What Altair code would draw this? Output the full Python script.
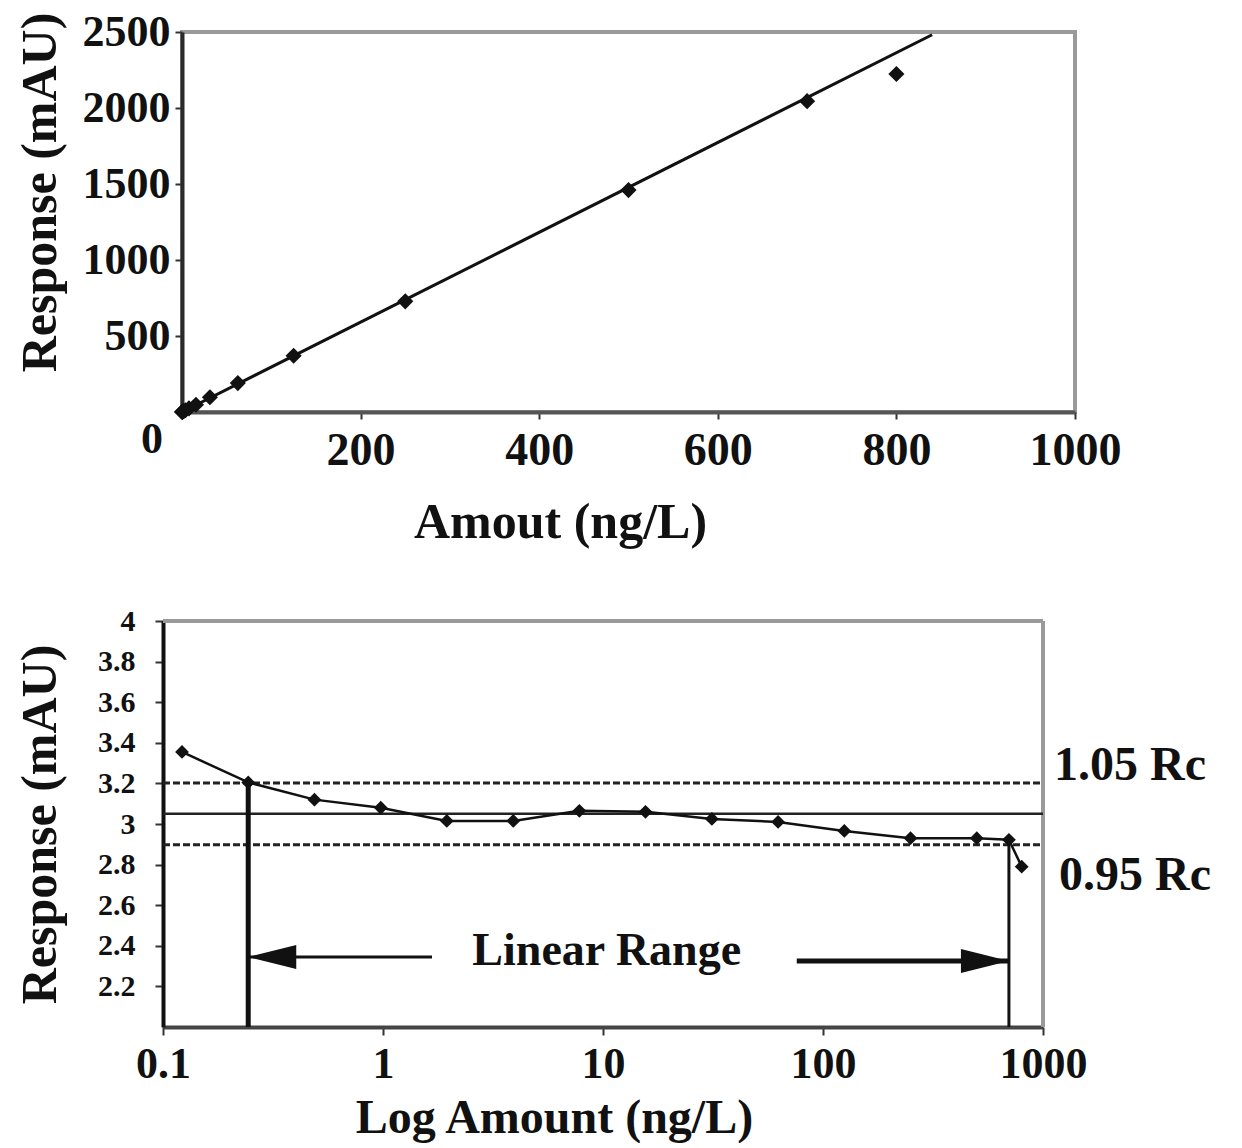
import altair as alt
import pandas as pd

# ---------------- data ----------------
amounts = [0.122, 0.244, 0.488, 0.977, 1.95, 3.91, 7.81, 15.6, 31.25, 62.5, 125, 250, 500, 700, 800]
responses = [0.4, 0.8, 1.5, 3.0, 5.9, 11.8, 24, 48, 97, 190, 370, 728, 1460, 2045, 2224]
fit_amounts = [0, 840]
fit_responses = [0, 2482]
ratios = [3.355, 3.205, 3.12, 3.08, 3.015, 3.015, 3.065, 3.06, 3.025, 3.01, 2.966, 2.93, 2.93, 2.922, 2.79]

rc = 3.05
rc_upper = 3.2025
rc_lower = 2.8975

top_x_ticks = [200, 400, 600, 800, 1000]
top_y_ticks = [500, 1000, 1500, 2000, 2500]
bottom_x_ticks = [0.1, 1, 10, 100, 1000]
bottom_y_ticks = [2.2, 2.4, 2.6, 2.8, 3.0, 3.2, 3.4, 3.6, 3.8, 4.0]
bottom_x_domain = [0.1, 1000]
bottom_y_domain = [2.0, 4.0]

lower_limit_amount = 0.244
upper_limit_amount = 700
lower_limit_ratio = 3.2025
upper_limit_ratio = 2.922
arrow_left_y = 2.345
arrow_right_y = 2.325
arrow_left_end = 1.67
arrow_right_start = 76
label_range_x = 10.4

FONT = "Liberation Serif"
INK = "#111111"
FRAME = "#9a9a9a"
SHIFT = 19  # bottom panel's plot area sits this many pixels left of the top one

# ---------------- top chart ----------------
top_df = pd.DataFrame({"amount": amounts, "response": responses})
fit_df = pd.DataFrame({"amount": fit_amounts, "response": fit_responses})
zero_df = pd.DataFrame({"amount": [0], "response": [0], "label": ["0"]})


def top_x():
    return alt.X(
        "amount:Q",
        scale=alt.Scale(domain=[0, 1000], nice=False, zero=False),
        axis=alt.Axis(values=top_x_ticks, format="d", title="Amout (ng/L)",
                      labelFontSize=46, titleFontSize=50, tickSize=7,
                      labelPadding=9, titlePadding=24, titleX=378,
                      domainColor="#555555"),
    )


def top_y():
    return alt.Y(
        "response:Q",
        scale=alt.Scale(domain=[0, 2500], nice=False, zero=False),
        axis=alt.Axis(values=top_y_ticks, format="d", title="Response (mAU)",
                      labelFontSize=44, titleFontSize=50, tickSize=7,
                      labelPadding=5, titleAngle=270, titleX=-142, titleY=160,
                      titleAlign="center", titleBaseline="middle",
                      domainColor="#2a2a2a"),
    )


fit_line = alt.Chart(fit_df).mark_line(color="#111111", strokeWidth=3).encode(x=top_x(), y=top_y())
top_points = alt.Chart(top_df).mark_point(shape="diamond", filled=True, size=260,
                                          color="#111111", opacity=1).encode(x=top_x(), y=top_y())
zero_label = alt.Chart(zero_df).mark_text(font=FONT, fontWeight="bold", fontSize=44, color=INK,
                                          dx=-30, dy=28).encode(x=top_x(), y=top_y(), text="label:N")

top = alt.layer(fit_line, top_points, zero_label).properties(
    width=893, height=380, view=alt.ViewBackground(stroke=FRAME, strokeWidth=4))

# ---------------- bottom chart ----------------
BW = 861
bot_df = pd.DataFrame({"amount": amounts, "ratio": ratios})


def bx():
    return alt.X(
        "amount:Q",
        scale=alt.Scale(type="log", domain=bottom_x_domain, nice=False, range=[-SHIFT, BW]),
        axis=alt.Axis(values=bottom_x_ticks, format="~g", title="Log Amount (ng/L)",
                      labelFontSize=44, titleFontSize=48, tickSize=8,
                      labelPadding=7, titlePadding=8, titleX=372,
                      domainColor="#444444"),
    )


def by():
    return alt.Y(
        "ratio:Q",
        scale=alt.Scale(domain=bottom_y_domain, nice=False, zero=False),
        axis=alt.Axis(values=bottom_y_ticks, format="~g", title="Response (mAU)",
                      labelFontSize=30, titleFontSize=50, tickSize=8,
                      labelPadding=20, titleAngle=270, titleX=-123,
                      titleAlign="center", titleBaseline="middle",
                      offset=SHIFT, domainColor="#111111"),
    )


# grey frame (top and right edges) of the lower panel
frame_top_df = pd.DataFrame({"amount": [bottom_x_domain[0]], "amount2": [bottom_x_domain[1]],
                             "ratio": [bottom_y_domain[1]]})
frame_right_df = pd.DataFrame({"amount": [bottom_x_domain[1]], "ratio": [bottom_y_domain[0]],
                               "ratio2": [bottom_y_domain[1]]})
frame_top = alt.Chart(frame_top_df).mark_rule(color=FRAME, strokeWidth=4).encode(
    x=bx(), x2=alt.X2("amount2:Q"), y=by())
frame_right = alt.Chart(frame_right_df).mark_rule(color=FRAME, strokeWidth=4).encode(
    x=bx(), y=by(), y2=alt.Y2("ratio2:Q"))

ref_dash_df = pd.DataFrame({"ratio": [rc_upper, rc_lower],
                            "amount": [bottom_x_domain[0]] * 2, "amount2": [bottom_x_domain[1]] * 2})
ref_solid_df = pd.DataFrame({"ratio": [rc], "amount": [bottom_x_domain[0]], "amount2": [bottom_x_domain[1]]})
dashed = alt.Chart(ref_dash_df).mark_rule(color="#222222", strokeWidth=3, strokeDash=[7, 3]).encode(
    x=bx(), x2=alt.X2("amount2:Q"), y=by())
solid = alt.Chart(ref_solid_df).mark_rule(color="#222222", strokeWidth=2.5).encode(
    x=bx(), x2=alt.X2("amount2:Q"), y=by())

curve = alt.Chart(bot_df).mark_line(color="#111111", strokeWidth=2.5).encode(x=bx(), y=by())
bot_points = alt.Chart(bot_df).mark_point(shape="diamond", filled=True, size=190,
                                          color="#111111", opacity=1).encode(x=bx(), y=by())

vl_left_df = pd.DataFrame({"amount": [lower_limit_amount], "ratio": [lower_limit_ratio],
                           "ratio2": [bottom_y_domain[0]]})
vl_right_df = pd.DataFrame({"amount": [upper_limit_amount], "ratio": [upper_limit_ratio],
                            "ratio2": [bottom_y_domain[0]]})
vline_left = alt.Chart(vl_left_df).mark_rule(color="#111111", strokeWidth=5).encode(
    x=bx(), y=by(), y2=alt.Y2("ratio2:Q"))
vline_right = alt.Chart(vl_right_df).mark_rule(color="#111111", strokeWidth=3).encode(
    x=bx(), y=by(), y2=alt.Y2("ratio2:Q"))

shaft_left_df = pd.DataFrame({"amount": [lower_limit_amount], "amount2": [arrow_left_end], "ratio": [arrow_left_y]})
shaft_right_df = pd.DataFrame({"amount": [arrow_right_start], "amount2": [upper_limit_amount], "ratio": [arrow_right_y]})
shaft_left = alt.Chart(shaft_left_df).mark_rule(color="#111111", strokeWidth=3).encode(
    x=bx(), x2=alt.X2("amount2:Q"), y=by())
shaft_right = alt.Chart(shaft_right_df).mark_rule(color="#111111", strokeWidth=5).encode(
    x=bx(), x2=alt.X2("amount2:Q"), y=by())

head_left_df = pd.DataFrame({"amount": [lower_limit_amount], "ratio": [arrow_left_y]})
head_right_df = pd.DataFrame({"amount": [upper_limit_amount], "ratio": [arrow_right_y]})
head_left = alt.Chart(head_left_df).mark_point(shape="M0,0L2,-0.5L2,0.5Z", size=2304, filled=True,
                                               color="#111111", opacity=1).encode(x=bx(), y=by())
head_right = alt.Chart(head_right_df).mark_point(shape="M0,0L-2,-0.5L-2,0.5Z", size=2304, filled=True,
                                                 color="#111111", opacity=1).encode(x=bx(), y=by())

rc_text_df = pd.DataFrame({"amount": [bottom_x_domain[1]], "ratio": [rc_upper], "label": ["1.05 Rc"]})
rc_text_df2 = pd.DataFrame({"amount": [bottom_x_domain[1]], "ratio": [rc_lower], "label": ["0.95 Rc"]})
range_df = pd.DataFrame({"amount": [label_range_x], "ratio": [arrow_left_y], "label": ["Linear Range"]})

txt_upper = alt.Chart(rc_text_df).mark_text(font=FONT, fontWeight="bold", fontSize=48, color=INK,
                                            align="left", baseline="middle", dx=11, dy=-17).encode(
    x=bx(), y=by(), text="label:N")
txt_lower = alt.Chart(rc_text_df2).mark_text(font=FONT, fontWeight="bold", fontSize=48, color=INK,
                                             align="left", baseline="middle", dx=16, dy=31).encode(
    x=bx(), y=by(), text="label:N")
txt_range = alt.Chart(range_df).mark_text(font=FONT, fontWeight="bold", fontSize=46, color=INK,
                                          align="center", baseline="middle", dy=-6).encode(
    x=bx(), y=by(), text="label:N")

bottom = alt.layer(frame_top, frame_right, dashed, solid, curve, bot_points, vline_left, vline_right,
                   shaft_left, shaft_right, head_left, head_right,
                   txt_upper, txt_lower, txt_range).properties(
    width=BW, height=406, view=alt.ViewBackground(stroke="transparent"))

chart = alt.vconcat(top, bottom, spacing=56).properties(
    padding={"left": 5, "top": 0, "right": 5, "bottom": 0}
).configure_axis(
    grid=False,
    labelFont=FONT, titleFont=FONT,
    labelFontWeight="bold", titleFontWeight="bold",
    labelColor=INK, titleColor=INK,
    domainWidth=4, tickColor="#333333", tickWidth=2,
    labelOverlap=False, labelFlush=False,
)

chart.save("out.html", embed_options={"renderer": "svg", "actions": False})
